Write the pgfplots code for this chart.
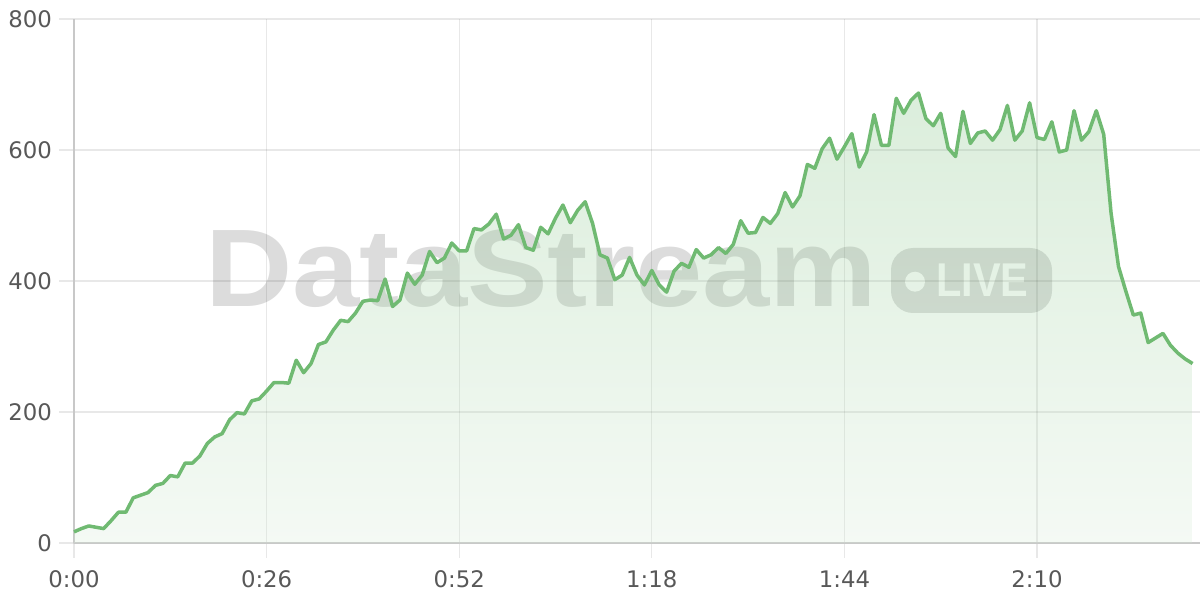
\documentclass[border=0pt]{standalone}
\usepackage{fontspec}
\setmainfont{DejaVu Sans}
\newfontfamily\wmfont{Liberation Sans}
\usepackage{graphicx}
\usepackage{pgfplots}
\usepackage{pgfplotstable}
\pgfplotsset{compat=1.18}
\definecolor{lg}{RGB}{112,186,114}
\definecolor{wmgray}{RGB}{220,220,220}
\definecolor{labelgray}{RGB}{88,88,88}
\definecolor{axisgray}{RGB}{200,200,200}
\pgfplotstableread{
t v
0 17
1 22
2 26
3 24
4 22
5 34
6 47
7 47
8 69
9 73
10 77
11 88
12 91
13 103
14 101
15 122
16 122
17 133
18 152
19 162
20 167
21 188
22 199
23 197
24 217
25 220
26 232
27 245
28 245
29 244
30 279
31 260
32 274
33 303
34 307
35 325
36 340
37 338
38 351
39 369
40 371
41 370
42 403
43 361
44 371
45 412
46 395
47 409
48 445
49 428
50 435
51 458
52 446
53 446
54 480
55 478
56 487
57 502
58 464
59 470
60 486
61 451
62 447
63 482
64 472
65 496
66 516
67 489
68 508
69 521
70 488
71 440
72 435
73 402
74 409
75 436
76 409
77 394
78 416
79 394
80 383
81 415
82 427
83 421
84 448
85 435
86 440
87 451
88 442
89 456
90 492
91 473
92 474
93 497
94 488
95 503
96 535
97 513
98 530
99 578
100 572
101 602
102 618
103 586
104 605
105 625
106 574
107 597
108 654
109 607
110 607
111 679
112 656
113 676
114 687
115 648
116 637
117 656
118 603
119 590
120 659
121 610
122 626
123 629
124 615
125 631
126 668
127 615
128 629
129 672
130 619
131 616
132 643
133 597
134 600
135 660
136 615
137 628
138 660
139 624
140 503
141 422
142 384
143 348
144 351
145 306
146 313
147 320
148 302
149 290
150 281
151 274
}\datatable
\begin{document}
\begin{tikzpicture}
\useasboundingbox (-37pt,-28.5pt) rectangle (563pt,271.5pt);
% watermark
\node[anchor=base west, inner sep=0pt, text=wmgray] at (65.5pt,118pt)
  {\scalebox{1.095}[1]{\wmfont\bfseries\fontsize{55.2}{60}\selectfont DataStream}};
\fill[wmgray, rounded corners=11pt] (408.5pt,115pt) rectangle (489pt,147.5pt);
\fill[white] (420.5pt,130.65pt) circle (5pt);
\node[anchor=base west, inner sep=0pt, text=white] at (431pt,123pt)
  {\scalebox{0.875}[1]{\wmfont\bfseries\fontsize{23.7}{26}\selectfont LIVE}};
\begin{axis}[
  at={(0pt,0pt)}, anchor=south west,
  scale only axis, width=563pt, height=262pt,
  xmin=0, xmax=152, ymin=0, ymax=800,
  axis lines=left,
  axis line style={draw=axisgray, line width=0.8pt, -},
  xtick={0,26,52,78,104,130},
  xticklabels={0:00,0:26,0:52,1:18,1:44,2:10},
  ytick={0,200,400,600,800},
  grid=major,
  major grid style={draw=black, draw opacity=0.09, line width=0.6pt},
  tick align=outside, major tick length=7.5pt,
  tick style={draw=black, draw opacity=0.09, line width=0.6pt},
  ticklabel style={font=\fontsize{11.4}{13}\selectfont, text=labelgray},
  xticklabel style={yshift=-3pt},
  /pgf/number format/assume math mode=true,
  clip=false,
]
\addplot[draw=none, top color=lg, bottom color=lg!30!white, fill opacity=0.25]
  table[x=t, y=v] {\datatable} \closedcycle;
\addplot[lg, line width=1.75pt, line join=round] table[x=t, y=v] {\datatable};
\end{axis}
\end{tikzpicture}
\end{document}
